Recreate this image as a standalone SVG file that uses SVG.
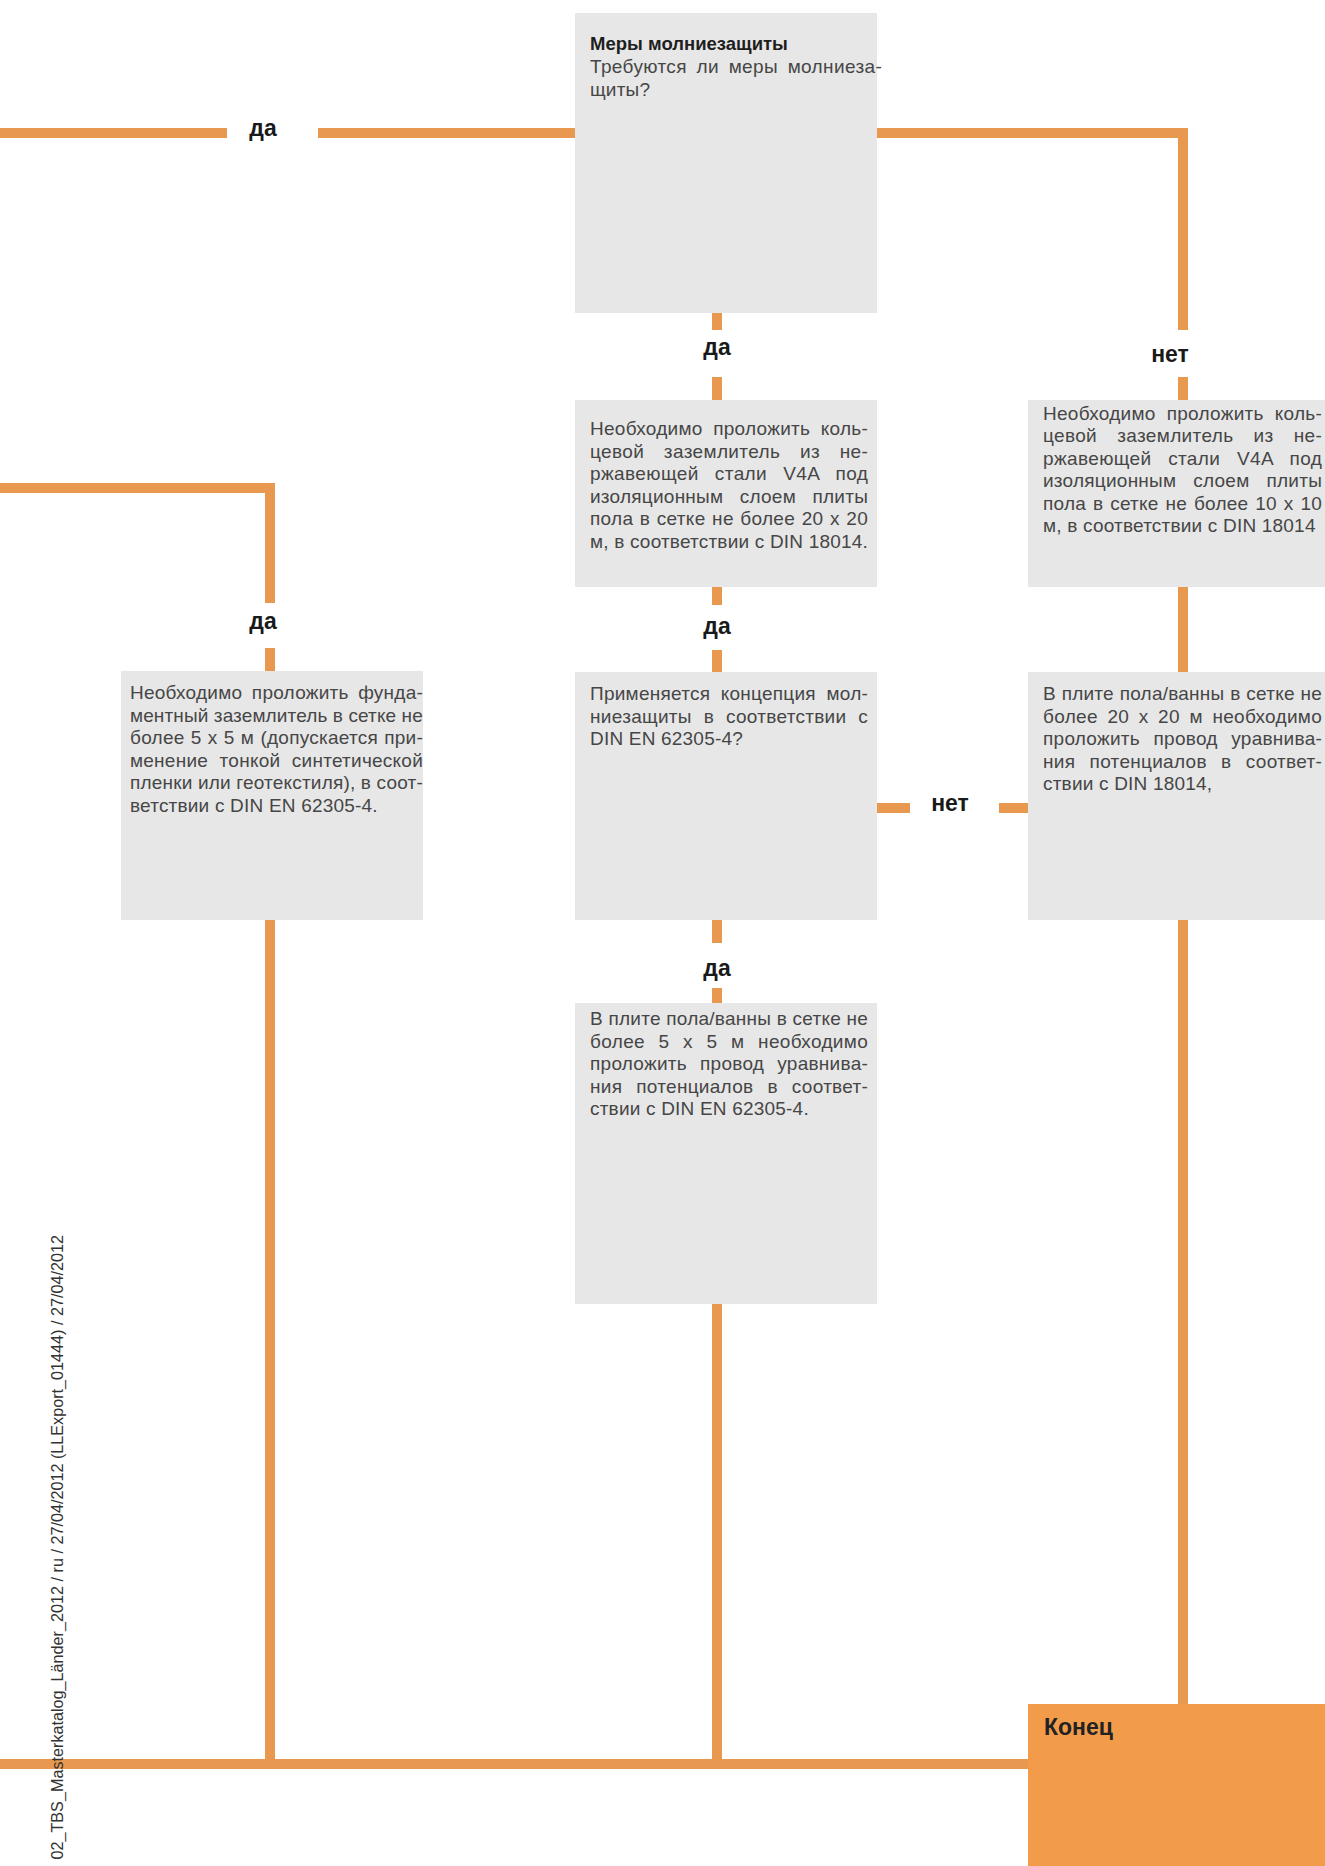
<svg xmlns="http://www.w3.org/2000/svg" width="1325" height="1866" viewBox="0 0 1325 1866">
<style>
.box{fill:#e7e7e7}
.end{fill:#f19b4b}
.ln{stroke:#e9994f;stroke-width:10;fill:none;stroke-linecap:butt;stroke-linejoin:miter}
.t{font-family:"Liberation Sans",Arial,sans-serif;font-size:19px;fill:#464646;letter-spacing:0.2px}
.h{font-family:"Liberation Sans",Arial,sans-serif;font-size:18.5px;font-weight:bold;fill:#1e1e1e}
.lb{font-family:"Liberation Sans",Arial,sans-serif;font-size:23px;font-weight:bold;fill:#1a1a1a;text-anchor:middle}
.ft{font-family:"Liberation Sans",Arial,sans-serif;font-size:16.2px;fill:#333333}
</style>
<rect width="1325" height="1866" fill="#ffffff"/>

<g id="connectors">
  <line class="ln" x1="0" y1="133" x2="227" y2="133"/>
  <line class="ln" x1="318" y1="133" x2="575" y2="133"/>
  <path class="ln" d="M876 133 H1183 V330"/>
  <line class="ln" x1="1183" y1="377" x2="1183" y2="400"/>
  <line class="ln" x1="1183" y1="587" x2="1183" y2="672"/>
  <line class="ln" x1="1183" y1="920" x2="1183" y2="1704"/>
  <line class="ln" x1="717" y1="313" x2="717" y2="330"/>
  <line class="ln" x1="717" y1="377" x2="717" y2="400"/>
  <line class="ln" x1="717" y1="587" x2="717" y2="605"/>
  <line class="ln" x1="717" y1="650" x2="717" y2="672"/>
  <line class="ln" x1="717" y1="920" x2="717" y2="943"/>
  <line class="ln" x1="717" y1="988" x2="717" y2="1003"/>
  <line class="ln" x1="717" y1="1304" x2="717" y2="1769"/>
  <line class="ln" x1="877" y1="808" x2="910" y2="808"/>
  <line class="ln" x1="999" y1="808" x2="1028" y2="808"/>
  <path class="ln" d="M0 488 H270 V603"/>
  <line class="ln" x1="270" y1="648" x2="270" y2="671"/>
  <line class="ln" x1="270" y1="920" x2="270" y2="1769"/>
  <line class="ln" x1="0" y1="1764" x2="1028" y2="1764"/>
  <g id="labels">
    <text class="lb" x="263" y="136">да</text>
    <text class="lb" x="717" y="355">да</text>
    <text class="lb" x="1170" y="362">нет</text>
    <text class="lb" x="717" y="634">да</text>
    <text class="lb" x="263" y="629">да</text>
    <text class="lb" x="950" y="811">нет</text>
    <text class="lb" x="717" y="976">да</text>
  </g>
</g>

<g id="n-start">
  <rect class="box" x="575" y="13" width="302" height="300"/>
  <text class="h" x="590" y="50">Меры молниезащиты</text>
  <text class="t" x="590" y="73" word-spacing="4" textLength="292" lengthAdjust="spacing">Требуются ли меры молниеза-</text>
  <text class="t" x="590" y="96">щиты?</text>
</g>

<g id="n-ring20">
  <rect class="box" x="575" y="400" width="302" height="187"/>
  <text class="t" x="590" y="435" word-spacing="5" textLength="278" lengthAdjust="spacing">Необходимо проложить коль-</text>
  <text class="t" x="590" y="457.6" word-spacing="14" textLength="278" lengthAdjust="spacing">цевой заземлитель из не-</text>
  <text class="t" x="590" y="480.2" word-spacing="10.5" textLength="278" lengthAdjust="spacing">ржавеющей стали V4A под</text>
  <text class="t" x="590" y="502.8" word-spacing="11" textLength="278" lengthAdjust="spacing">изоляционным слоем плиты</text>
  <text class="t" x="590" y="525.4" word-spacing="1" textLength="278" lengthAdjust="spacing">пола в сетке не более 20 x 20</text>
  <text class="t" x="590" y="548" textLength="278" lengthAdjust="spacing">м, в соответствии с DIN 18014.</text>
</g>

<g id="n-ring10">
  <rect class="box" x="1028" y="400" width="297" height="187"/>
  <text class="t" x="1043" y="420" word-spacing="5.5" textLength="279" lengthAdjust="spacing">Необходимо проложить коль-</text>
  <text class="t" x="1043" y="442.4" word-spacing="14.5" textLength="279" lengthAdjust="spacing">цевой заземлитель из не-</text>
  <text class="t" x="1043" y="464.8" word-spacing="11" textLength="279" lengthAdjust="spacing">ржавеющей стали V4A под</text>
  <text class="t" x="1043" y="487.2" word-spacing="11.5" textLength="279" lengthAdjust="spacing">изоляционным слоем плиты</text>
  <text class="t" x="1043" y="509.6" word-spacing="1.4" textLength="279" lengthAdjust="spacing">пола в сетке не более 10 x 10</text>
  <text class="t" x="1043" y="532">м, в соответствии с DIN 18014</text>
</g>

<g id="n-concept">
  <rect class="box" x="575" y="672" width="302" height="248"/>
  <text class="t" x="590" y="700" word-spacing="5" textLength="278" lengthAdjust="spacing">Применяется концепция мол-</text>
  <text class="t" x="590" y="722.5" word-spacing="6.3" textLength="278" lengthAdjust="spacing">ниезащиты в соответствии с</text>
  <text class="t" x="590" y="745">DIN EN 62305-4?</text>
</g>

<g id="n-eq20">
  <rect class="box" x="1028" y="672" width="297" height="248"/>
  <text class="t" x="1043" y="700" word-spacing="0.3" textLength="279" lengthAdjust="spacing">В плите пола/ванны в сетке не</text>
  <text class="t" x="1043" y="722.5" word-spacing="4" textLength="279" lengthAdjust="spacing">более 20 x 20 м необходимо</text>
  <text class="t" x="1043" y="745" word-spacing="8" textLength="279" lengthAdjust="spacing">проложить провод уравнива-</text>
  <text class="t" x="1043" y="767.5" word-spacing="8.8" textLength="279" lengthAdjust="spacing">ния потенциалов в соответ-</text>
  <text class="t" x="1043" y="790">ствии с DIN 18014,</text>
</g>

<g id="n-found">
  <rect class="box" x="121" y="671" width="302" height="249"/>
  <text class="t" x="130" y="699" word-spacing="4" textLength="293" lengthAdjust="spacing">Необходимо проложить фунда-</text>
  <text class="t" x="130" y="721.6" textLength="293" lengthAdjust="spacing">ментный заземлитель в сетке не</text>
  <text class="t" x="130" y="744.2" word-spacing="0.7" textLength="293" lengthAdjust="spacing">более 5 x 5 м (допускается при-</text>
  <text class="t" x="130" y="766.8" word-spacing="6" textLength="293" lengthAdjust="spacing">менение тонкой синтетической</text>
  <text class="t" x="130" y="789.4" textLength="293" lengthAdjust="spacing">пленки или геотекстиля), в соот-</text>
  <text class="t" x="130" y="812">ветствии с DIN EN 62305-4.</text>
</g>

<g id="n-eq5">
  <rect class="box" x="575" y="1003" width="302" height="301"/>
  <text class="t" x="590" y="1025" textLength="278" lengthAdjust="spacing">В плите пола/ванны в сетке не</text>
  <text class="t" x="590" y="1047.5" word-spacing="8" textLength="278" lengthAdjust="spacing">более 5 x 5 м необходимо</text>
  <text class="t" x="590" y="1070" word-spacing="7.5" textLength="278" lengthAdjust="spacing">проложить провод уравнива-</text>
  <text class="t" x="590" y="1092.5" word-spacing="8.5" textLength="278" lengthAdjust="spacing">ния потенциалов в соответ-</text>
  <text class="t" x="590" y="1115">ствии с DIN EN 62305-4.</text>
</g>

<g id="n-end">
  <rect class="end" x="1028" y="1704" width="297" height="162"/>
  <text class="lb" x="1044" y="1735" style="text-anchor:start;fill:#222222">Конец</text>
</g>

<text class="ft" transform="translate(63,1235) rotate(-90)" text-anchor="end">02_TBS_Masterkatalog_Länder_2012 / ru / 27/04/2012 (LLExport_01444) / 27/04/2012</text>
</svg>
